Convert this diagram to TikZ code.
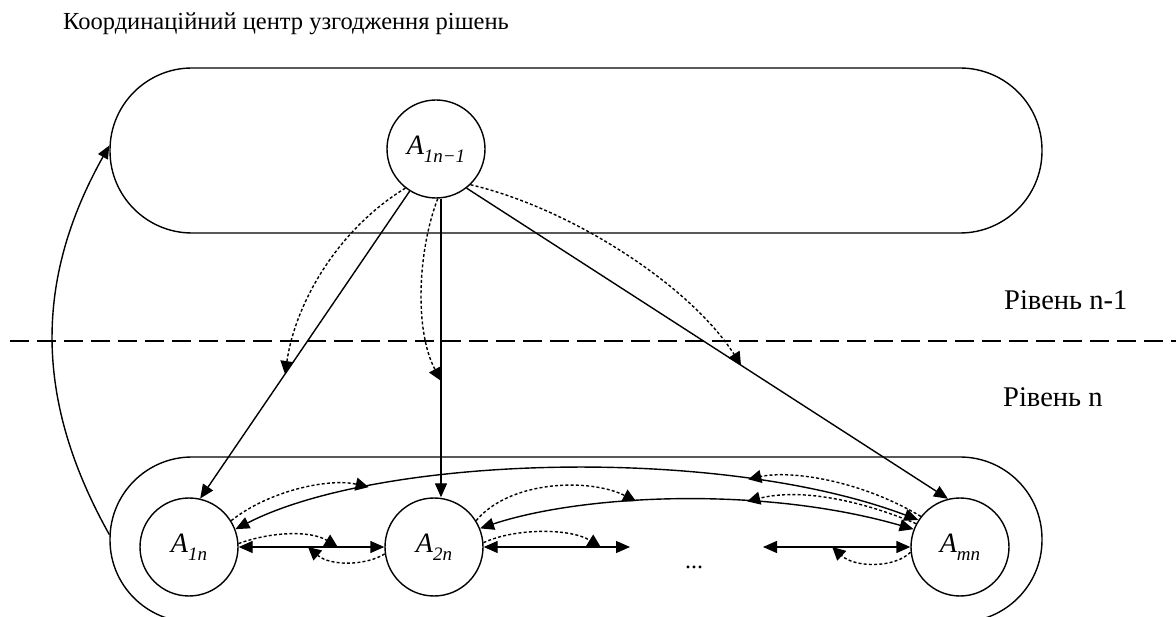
\documentclass[tikz,border=0pt]{standalone}
\usepackage{fontspec}
\setmainfont{Liberation Serif}
\usetikzlibrary{arrows.meta,calc}
\newcommand\mysub[1]{\raisebox{-0.3em}{\fontsize{19}{20}\selectfont #1}}
\begin{document}
\begin{tikzpicture}[x=1pt,y=-1pt,
  ln/.style={line width=1.4pt},
  nd/.style={circle,draw,line width=1.4pt,minimum size=98pt,inner sep=0pt,
     font=\fontsize{28}{30}\selectfont\itshape},
  lvl/.style={draw,line width=1.4pt,rounded corners=82pt,minimum width=932pt,
     minimum height=165pt,inner sep=0pt},
  tipA/.style={-{Triangle[length=14pt,width=12pt]}},
  both/.style={{Triangle[length=14pt,width=12pt]}-{Triangle[length=14pt,width=12pt]}},
  dot/.style={line width=1.4pt,dash pattern=on 3pt off 2.2pt,
     -{Triangle[length=13pt,width=13pt]}},
  txt/.style={anchor=base west,inner sep=0pt,font=\fontsize{28.5}{30}\selectfont}
]
\useasboundingbox (0,0) rectangle (1176,617);
\clip (0,0) rectangle (1176,617);

% level containers
\node[lvl] (lvl1) at (576,150.5) {};
\node[lvl] (lvl2) at (576,539.5) {};

% dashed separator
\draw[line width=1.4pt,dash pattern=on 19pt off 8pt] (10,341) -- (1176,341);

% texts
\node[txt,font=\fontsize{24.5}{27}\selectfont] (title) at (63,29.5)
   {Координаційний центр узгодження рішень};
\node[txt] (lv1) at (1004,310) {Рівень n-1};
\node[txt] (lv2) at (1003,407) {Рівень n};

% nodes
\node[nd] (top) at (436,149) {A\mysub{1n−1}};
\node[nd] (a1) at (189,547) {A\mysub{1n}};
\node[nd] (a2) at (434,547) {A\mysub{2n}};
\node[nd] (am) at (960,547) {A\mysub{mn}};
\node[anchor=base,font=\fontsize{24}{26}\selectfont] (dots) at (694,568) {...};

% top to bottom connectors
\draw[ln,tipA] (top.238.5) -- (a1.77.6);
\coordinate (v1) at ($(top.south)+(5,0)$);
\coordinate (v2) at ($(a2.north)+(7,0)$);
\draw[ln,tipA] (v1) -- (v2);
\draw[ln,tipA] (top.308) -- (am.104);

\coordinate (p1) at ($(top.238.5)!0.595!(a1.77.6)$);
\coordinate (p2) at ($(v1)!0.61!(v2)$);
\coordinate (p3) at ($(top.308)!0.57!(am.104)$);
\draw[dot] (top.232) .. controls (340,228) and (296,300) .. (p1);
\draw[dot] (top.272) .. controls (418,250) and (414,330) .. (p2);
\draw[dot] (top.314) .. controls (570,208) and (690,285) .. (p3);

% long curves in the lower level
\draw[ln,both] (a1.21.6) .. controls (380,455) and (720,445) .. (am.147)
   coordinate[pos=0.24] (ca1) coordinate[pos=0.75] (ca3);
\draw[ln,both] (a2.22) .. controls (580,495) and (760,485) .. (am.159.4)
   coordinate[pos=0.41] (cb1) coordinate[pos=0.65] (cb2);
\draw[dot] (a1.32) .. controls (270,490) and (330,478) .. (ca1);
\draw[dot] (a2.32) .. controls (510,480) and (590,478) .. (cb1);
\draw[dot] (am.142) .. controls (860,480) and (790,470) .. (ca3);
\draw[dot] (am.152) .. controls (860,500) and (800,488) .. (cb2);

% horizontal links
\coordinate (r2) at (630,547);
\coordinate (l3) at (763,547);
\draw[ln,both] (a1.east) -- (a2.west);
\draw[ln,both] (a2.east) -- (r2);
\draw[ln,both] (l3) -- (am.west);
\coordinate (q1) at ($(a1.east)!0.68!(a2.west)$);
\coordinate (q2) at ($(a1.east)!0.476!(a2.west)$);
\coordinate (q3) at ($(a2.east)!0.8!(r2)$);
\coordinate (q4) at ($(l3)!0.47!(am.west)$);
\draw[dot] (a1.4) .. controls (270,532) and (310,530) .. (q1);
\draw[dot] (a2.188) .. controls (365,566) and (330,566) .. (q2);
\draw[dot] (a2.5) .. controls (515,528) and (570,528) .. (q3);
\draw[dot] (am.186) .. controls (895,568) and (855,568) .. (q4);

% feedback from level n to the coordination centre
\draw[ln,-{Triangle[length=13pt,width=11pt]}] ($(lvl2.west)+(0,-5)$)
   .. controls (34,400) and (34,280) .. ($(lvl1.west)+(0,-5)$);
\end{tikzpicture}
\end{document}
